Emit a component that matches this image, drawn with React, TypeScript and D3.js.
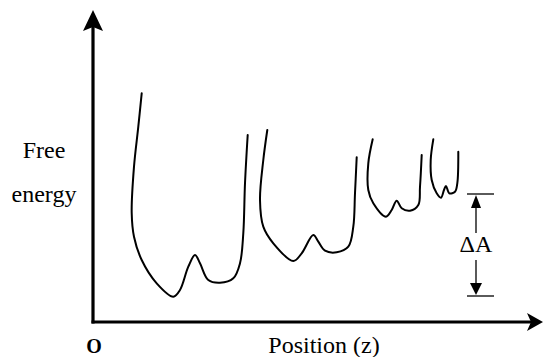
import React from 'react';
import * as d3 from 'd3';

// free-energy wells (position, energy)
const well1: [number, number][] = [
  [48.7, 228.7], [45.3, 195.3], [41, 155.3], [38.7, 109], [41, 85.3], [48.7, 62],
  [63.7, 38.7], [80.3, 25.3], [87, 32], [95.3, 55.3], [102, 67], [107, 58.7],
  [115.3, 42], [127, 39.3], [140.3, 43.7], [147, 58.7], [150.3, 88.7], [152, 138.7], [154.7, 187],
];
const well2: [number, number][] = [
  [174.3, 192], [170.3, 162], [167, 122], [170.3, 95.3], [180.3, 78.7], [200.3, 61],
  [208.7, 68.7], [220.3, 87], [225.3, 80.3], [232, 71.3], [243.7, 69.7], [255.3, 75.3],
  [260.3, 95.3], [262, 128.7], [263.7, 164.7],
];
const well3: [number, number][] = [
  [279.7, 182.7], [275.3, 158.7], [275.3, 132], [280.3, 118.7], [293, 105.3], [298.7, 112],
  [303.7, 121.3], [308.7, 113.7], [317, 111.3], [325.3, 117], [327, 135.3], [328.7, 167],
];
const well4: [number, number][] = [
  [340.3, 182.7], [337.7, 162], [338.7, 142], [343.7, 128.7], [348, 124.3], [351, 132],
  [353, 136], [356.3, 128.7], [362, 130.3], [364.3, 138.7], [365.3, 170.3],
];
const wells = [well1, well2, well3, well4];

const deltaLevels = [26, 128];
const deltaPos = 383;
const deltaLabel = 'ΔA';
const yLabel = ['Free', 'energy'];
const xLabel = 'Position (z)';
const originLabel = 'O';

const W = 544;
const H = 357;
const serif = { fontFamily: "'Liberation Serif', 'DejaVu Serif', serif" };

export default function App() {
  const x = d3.scaleLinear().domain([0, 450]).range([93, 543]);
  const y = d3.scaleLinear().domain([0, 312]).range([322, 10]);

  const line = d3
    .line<[number, number]>()
    .x((d) => x(d[0]))
    .y((d) => y(d[1]))
    .curve(d3.curveCatmullRom.alpha(0.5));

  const x0 = x(0);
  const y0 = y(0);
  const xEnd = x(450);
  const yEnd = y(312);

  const dx = x(deltaPos);
  const dTop = y(deltaLevels[1]);
  const dBot = y(deltaLevels[0]);

  return (
    <svg width={W} height={H} style={{ position: 'absolute', left: 0, top: 0, background: '#fff' }}>
      {/* axes */}
      <line x1={x0} y1={y0 + 1.5} x2={x0} y2={yEnd + 14} stroke="#000" strokeWidth={3.2} />
      <path d={`M${x0},${yEnd} L${x0 - 10},${yEnd + 21} L${x0},${yEnd + 17} L${x0 + 10},${yEnd + 21} Z`} fill="#000" />
      <line x1={x0 - 1.5} y1={y0} x2={xEnd - 12} y2={y0} stroke="#000" strokeWidth={3.2} />
      <path d={`M${xEnd},${y0} L${xEnd - 16},${y0 - 9} L${xEnd - 12},${y0} L${xEnd - 16},${y0 + 9} Z`} fill="#000" />

      {/* wells */}
      {wells.map((w, i) => (
        <path key={i} d={line(w) || ''} fill="none" stroke="#000" strokeWidth={2} strokeLinejoin="round" strokeLinecap="round" />
      ))}

      {/* delta A marker */}
      <line x1={dx - 9} x2={dx + 18} y1={dTop} y2={dTop} stroke="#000" strokeWidth={1.3} />
      <line x1={dx - 9} x2={dx + 18} y1={dBot} y2={dBot} stroke="#000" strokeWidth={1.3} />
      <line x1={dx} x2={dx} y1={dTop + 6} y2={233} stroke="#000" strokeWidth={1.3} />
      <line x1={dx} x2={dx} y1={260} y2={dBot - 6} stroke="#000" strokeWidth={1.3} />
      <path d={`M${dx},${dTop + 1} L${dx - 5},${dTop + 14} L${dx + 5},${dTop + 14} Z`} fill="#000" />
      <path d={`M${dx},${dBot - 1} L${dx - 6},${dBot - 13} L${dx + 6},${dBot - 13} Z`} fill="#000" />
      <text x={dx} y={252} textAnchor="middle" style={{ ...serif, fontSize: 24 }}>{deltaLabel}</text>

      {/* labels */}
      <text x={44} y={158} textAnchor="middle" style={{ ...serif, fontSize: 24 }}>{yLabel[0]}</text>
      <text x={44} y={202} textAnchor="middle" style={{ ...serif, fontSize: 24 }}>{yLabel[1]}</text>
      <text x={324} y={353} textAnchor="middle" style={{ ...serif, fontSize: 24 }}>{xLabel}</text>
      <text x={94} y={353} textAnchor="middle" style={{ ...serif, fontSize: 20, fontWeight: 'bold' }}>{originLabel}</text>
    </svg>
  );
}
